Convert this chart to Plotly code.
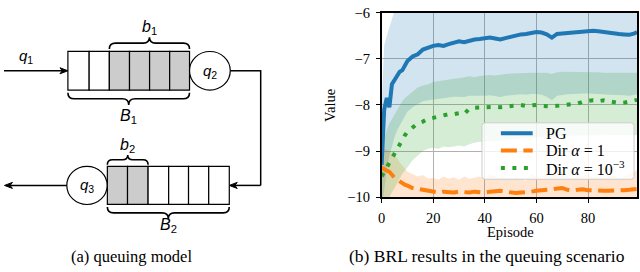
import plotly.graph_objects as go

# ---------------- data ----------------
episodes = [0, 1, 2, 3, 4, 5, 6, 7, 8, 9, 10, 12, 14, 16, 18, 20, 22, 24, 26, 28, 30,
            32, 34, 36, 38, 40, 42, 44, 46, 48, 50, 52, 54, 56, 58, 60, 62, 64, 66, 68,
            70, 72, 74, 76, 78, 80, 82, 84, 86, 88, 90, 92, 94, 96, 98, 99]

pg_mean = [-9.3, -8.1, -7.85, -8.05, -7.55, -7.45, -7.35, -7.28, -7.25, -7.15, -7.05,
           -6.95, -6.9, -6.8, -6.75, -6.72, -6.7, -6.72, -6.68, -6.66, -6.62,
           -6.64, -6.6, -6.58, -6.57, -6.55, -6.54, -6.56, -6.58, -6.55, -6.52,
           -6.5, -6.47, -6.46, -6.43, -6.42, -6.43, -6.47, -6.54, -6.46,
           -6.45, -6.44, -6.43, -6.41, -6.4, -6.39, -6.39, -6.4, -6.42, -6.44,
           -6.45, -6.46, -6.47, -6.48, -6.45, -6.42]
pg_upper = [-8.0, -6.7, -6.5, -6.3, -6.1, -5.9, -5.7, -5.6, -5.5, -5.5, -5.5,
            -5.5, -5.5, -5.5, -5.5, -5.5, -5.5, -5.5, -5.5, -5.5, -5.5,
            -5.5, -5.5, -5.5, -5.5, -5.5, -5.5, -5.5, -5.5, -5.5, -5.5,
            -5.5, -5.5, -5.5, -5.5, -5.5, -5.5, -5.5, -5.5, -5.5,
            -5.5, -5.5, -5.5, -5.5, -5.5, -5.5, -5.5, -5.5, -5.5, -5.5,
            -5.5, -5.5, -5.5, -5.5, -5.5, -5.5]
pg_lower = [-10.3, -9.8, -9.4, -9.1, -8.9, -8.7, -8.55, -8.45, -8.35, -8.25, -8.15,
            -8.05, -7.98, -7.92, -7.9, -7.88, -7.86, -7.85, -7.84, -7.82, -7.82,
            -7.83, -7.8, -7.81, -7.8, -7.8, -7.79, -7.81, -7.83, -7.8, -7.79,
            -7.78, -7.77, -7.78, -7.76, -7.76, -7.78, -7.82, -7.9, -7.8,
            -7.78, -7.77, -7.76, -7.75, -7.75, -7.75, -7.76, -7.76, -7.77, -7.78,
            -7.78, -7.79, -7.79, -7.8, -7.78, -7.77]

a1_mean = [-9.36, -9.4, -9.42, -9.45, -9.52, -9.58, -9.62, -9.66, -9.7, -9.73, -9.75,
           -9.8, -9.82, -9.84, -9.86, -9.89, -9.9, -9.88, -9.89, -9.9, -9.88,
           -9.9, -9.9, -9.88, -9.89, -9.9, -9.88, -9.86, -9.86, -9.88, -9.9,
           -9.91, -9.9, -9.9, -9.88, -9.86, -9.86, -9.84, -9.83, -9.82,
           -9.8, -9.84, -9.86, -9.84, -9.83, -9.85, -9.86, -9.87, -9.86, -9.86,
           -9.86, -9.87, -9.85, -9.84, -9.83, -9.82]
a1_upper = [-8.95, -8.95, -8.97, -9.0, -9.05, -9.1, -9.15, -9.25, -9.32, -9.4, -9.45,
            -9.5, -9.55, -9.52, -9.6, -9.58, -9.62, -9.55, -9.6, -9.57, -9.62,
            -9.55, -9.6, -9.58, -9.55, -9.6, -9.5, -9.55, -9.6, -9.58, -9.62,
            -9.55, -9.6, -9.65, -9.5, -9.55, -9.6, -9.45, -9.55, -9.5,
            -9.45, -9.55, -9.6, -9.5, -9.55, -9.5, -9.58, -9.55, -9.6, -9.55,
            -9.52, -9.6, -9.55, -9.5, -9.45, -9.4]
a1_lower = [-10.3, -10.3, -10.3, -10.3, -10.3, -10.3, -10.3, -10.3, -10.3, -10.3, -10.3,
            -10.3, -10.3, -10.3, -10.3, -10.3, -10.3, -10.3, -10.3, -10.3, -10.3,
            -10.3, -10.3, -10.3, -10.3, -10.3, -10.3, -10.3, -10.3, -10.3, -10.3,
            -10.3, -10.3, -10.3, -10.3, -10.3, -10.3, -10.3, -10.3, -10.3,
            -10.3, -10.3, -10.3, -10.3, -10.3, -10.3, -10.3, -10.3, -10.3, -10.3,
            -10.3, -10.3, -10.3, -10.3, -10.3, -10.3]

a3_mean = [-9.55, -9.45, -9.32, -9.22, -9.13, -9.02, -8.93, -8.85, -8.75, -8.66, -8.58,
           -8.48, -8.4, -8.36, -8.3, -8.28, -8.25, -8.22, -8.2, -8.2, -8.18,
           -8.2, -8.08, -8.06, -8.05, -8.06, -8.05, -8.04, -8.05, -8.04, -8.03,
           -8.03, -8.0, -8.02, -8.0, -8.0, -8.02, -8.03, -8.03, -8.02,
           -8.01, -8.0, -7.98, -7.97, -7.93, -7.92, -7.9, -7.92, -7.9, -7.92,
           -7.94, -7.96, -7.95, -7.92, -7.9, -7.89]
a3_upper = [-8.9, -8.7, -8.55, -8.4, -8.3, -8.2, -8.1, -8.0, -7.92, -7.85, -7.8,
            -7.7, -7.62, -7.58, -7.55, -7.5, -7.48, -7.46, -7.45, -7.43, -7.42,
            -7.4, -7.38, -7.4, -7.37, -7.36, -7.35, -7.36, -7.34, -7.33, -7.32,
            -7.32, -7.31, -7.31, -7.3, -7.3, -7.31, -7.3, -7.33, -7.29,
            -7.28, -7.28, -7.29, -7.28, -7.28, -7.28, -7.29, -7.29, -7.3, -7.3,
            -7.3, -7.31, -7.3, -7.3, -7.3, -7.3]
a3_lower = [-10.3, -10.2, -10.1, -10.0, -9.9, -9.8, -9.7, -9.6, -9.5, -9.42, -9.35,
            -9.2, -9.1, -9.0, -8.95, -8.93, -8.95, -8.9, -8.92, -8.9, -8.88,
            -8.9, -8.85, -8.82, -8.8, -8.8, -8.78, -8.8, -8.77, -8.76, -8.75,
            -8.74, -8.73, -8.72, -8.72, -8.7, -8.7, -8.69, -8.72, -8.68,
            -8.67, -8.67, -8.66, -8.66, -8.65, -8.65, -8.65, -8.66, -8.65, -8.65,
            -8.65, -8.66, -8.65, -8.65, -8.65, -8.65]

series_names = ["PG", "Dir <i>α</i> = 1", "Dir <i>α</i> = 10<sup>−3</sup>"]
x_ticks = [0, 20, 40, 60, 80]
y_ticks = [-10, -9, -8, -7, -6]
y_tick_labels = ["−10", "−9", "−8", "−7", "−6"]

# ---------------- figure ----------------
W, H = 640, 272
SERIF = "Liberation Serif"
SANS = "Liberation Sans"

fig = go.Figure()

colors = ["#1f77b4", "#ff7f0e", "#2ca02c"]
fills = ["rgba(31,119,180,0.2)", "rgba(255,127,14,0.2)", "rgba(44,160,44,0.2)"]
bands = [(pg_upper, pg_lower), (a1_upper, a1_lower), (a3_upper, a3_lower)]
means = [pg_mean, a1_mean, a3_mean]
dashes = ["solid", "16px,6.5px", "4px,7.5px"]

for (up, lo), fc in zip(bands, fills):
    fig.add_trace(go.Scatter(
        x=episodes + episodes[::-1], y=up + lo[::-1], fill="toself",
        fillcolor=fc, line=dict(width=0), mode="lines",
        showlegend=False, hoverinfo="skip"))

for m, c, d, n in zip(means, colors, dashes, series_names):
    fig.add_trace(go.Scatter(x=episodes, y=m, mode="lines", name=n, showlegend=False,
                             line=dict(color=c, width=4, dash=d)))

def px2x(p):
    return p / W

def px2y(p):
    return 1 - p / H

TICKFONT = dict(family=SERIF, size=14.5, color="black")
fig.update_layout(
    width=W, height=H, margin=dict(l=0, r=0, t=0, b=0),
    paper_bgcolor="white", plot_bgcolor="rgba(0,0,0,0)",
    font=dict(family=SERIF, size=14, color="black"),
    xaxis=dict(domain=[px2x(380), px2x(637)], range=[0, 99], tickvals=x_ticks,
               showline=True, linecolor="black", linewidth=1.5, mirror=True,
               ticks="outside", ticklen=4, tickcolor="black", tickwidth=1,
               showgrid=True, gridcolor="#b0b0b0", gridwidth=1, zeroline=False,
               tickfont=TICKFONT, ticklabelstandoff=3),
    yaxis=dict(domain=[px2y(201), px2y(5)], range=[-10, -6], tickvals=y_ticks,
               ticktext=y_tick_labels,
               showline=True, linecolor="black", linewidth=1.5, mirror=True,
               ticks="outside", ticklen=4, tickcolor="black", tickwidth=1,
               showgrid=True, gridcolor="#b0b0b0", gridwidth=1, zeroline=False,
               tickfont=TICKFONT, ticklabelstandoff=3, ticklabeloverflow="allow"),
    xaxis2=dict(domain=[0, 1], range=[0, W], visible=False, anchor="y2", fixedrange=True),
    yaxis2=dict(domain=[0, 1], range=[H, 0], visible=False, anchor="x2", fixedrange=True),
    showlegend=False,
)

# ---------------- queuing diagram + legend (pixel coordinates on x2/y2) ----------------
shapes = []
def rect(x0, y0, x1, y1, fill="white"):
    shapes.append(dict(type="rect", xref="x2", yref="y2", x0=x0, y0=y0, x1=x1, y1=y1,
                       fillcolor=fill, line=dict(color="black", width=1.2)))

def line(x0, y0, x1, y1, w=1.5, color="black", dash="solid"):
    shapes.append(dict(type="line", xref="x2", yref="y2", x0=x0, y0=y0, x1=x1, y1=y1,
                       line=dict(color=color, width=w, dash=dash)))

def circle(cx, cy, r):
    shapes.append(dict(type="circle", xref="x2", yref="y2", x0=cx - r, y0=cy - r,
                       x1=cx + r, y1=cy + r, fillcolor="white",
                       line=dict(color="black", width=1.2)))

def brace(xa, xb, yb, h):
    xm = (xa + xb) / 2
    a = abs(h)
    p = (f"M {xa},{yb} Q {xa},{yb-h} {xa+a},{yb-h} L {xm-a},{yb-h} "
         f"Q {xm},{yb-h} {xm},{yb-2*h} Q {xm},{yb-h} {xm+a},{yb-h} "
         f"L {xb-a},{yb-h} Q {xb},{yb-h} {xb},{yb}")
    shapes.append(dict(type="path", xref="x2", yref="y2", path=p,
                       line=dict(color="black", width=1.6)))

def head(hx, hy, direction):
    L, Wd = 8 * direction, 3.2
    p = f"M {hx},{hy} L {hx-L},{hy-Wd} L {hx-L*0.7},{hy} L {hx-L},{hy+Wd} Z"
    shapes.append(dict(type="path", xref="x2", yref="y2", path=p,
                       fillcolor="black", line=dict(color="black", width=1)))

def round_box(x0, y0, x1, y1, r):
    p = (f"M {x0+r},{y0} L {x1-r},{y0} Q {x1},{y0} {x1},{y0+r} L {x1},{y1-r} "
         f"Q {x1},{y1} {x1-r},{y1} L {x0+r},{y1} Q {x0},{y1} {x0},{y1-r} "
         f"L {x0},{y0+r} Q {x0},{y0} {x0+r},{y0} Z")
    shapes.append(dict(type="path", xref="x2", yref="y2", path=p,
                       fillcolor="rgba(255,255,255,0.8)",
                       line=dict(color="#cccccc", width=1)))

GRAY = "#cccccc"
top_edges = [64.3, 85.7, 106, 126.3, 146.5, 166.7, 186.7]
for i in range(6):
    rect(top_edges[i], 46, top_edges[i + 1], 87.3, GRAY if i >= 2 else "white")
circle(207.2, 66.7, 20.5)
bot_edges = [104, 124.3, 145, 165.7, 185.7, 206, 226.7]
for i in range(6):
    rect(bot_edges[i], 168.3, bot_edges[i + 1], 208.7, GRAY if i < 2 else "white")
circle(83.5, 188.5, 20.3)
line(0, 66.7, 60, 66.7)
head(64.3, 66.7, 1)
line(227.7, 66.7, 258.3, 66.7)
line(258.3, 66, 258.3, 188.5)
line(258.3, 188.5, 231, 188.5)
head(226.7, 188.5, -1)
line(63.2, 188.5, 5, 188.5)
head(0.5, 188.5, -1)
brace(106, 186.7, 43.5, 6.2)
brace(64.3, 186.7, 90, -6.5)
brace(104, 145, 166.5, 5.2)
brace(104, 226.7, 211.5, -6.2)

# legend box
legend_rows = [133, 151.5, 170]
round_box(481, 122, 634, 182, 3)
for yrow, c, d in zip(legend_rows, colors, dashes):
    line(500, yrow, 532, yrow, w=4, color=c, dash=d)

fig.update_layout(shapes=shapes)

ann = []
def label(x, y, text, size=15, family=SANS, xanchor="center", **kw):
    ann.append(dict(x=x, y=y, xref="x2", yref="y2", text=text, showarrow=False,
                    font=dict(family=family, size=size, color="black"),
                    xanchor=xanchor, yanchor="middle", **kw))

label(22, 52, "<i>q</i><sub>1</sub>", 15)
label(207.5, 67, "<i>q</i><sub>2</sub>", 15)
label(83.5, 189, "<i>q</i><sub>3</sub>", 15)
label(146, 21, "<i>b</i><sub>1</sub>", 16)
label(125, 115, "<i>B</i><sub>1</sub>", 16)
label(124.5, 146, "<i>b</i><sub>2</sub>", 16)
label(165.5, 231, "<i>B</i><sub>2</sub>", 16)

label(128, 263.5, "(a) queuing model", 16.5, SERIF)
label(486, 263.5, "(b) BRL results in the queuing scenario", 17.5, SERIF)
label(510, 238, "Episode", 14.5, SERIF)
label(328, 103, "Value", 14.5, SERIF, textangle=-90)

for yrow, n in zip(legend_rows, series_names):
    label(543, yrow, n, 16, SERIF, xanchor="left")

fig.update_layout(annotations=ann)

fig.write_html("out.html", config={"displayModeBar": False},
               post_script="document.body.style.margin='0';")
